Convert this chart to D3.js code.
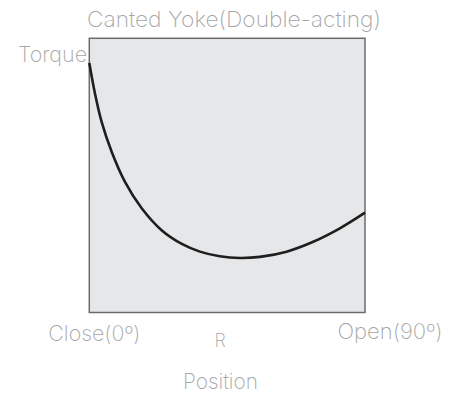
<!DOCTYPE html>
<html>
<head>
<meta charset="utf-8">
<script src="https://cdn.jsdelivr.net/npm/d3@7"></script>
<style>
  body { margin: 0; background: #fff; }
  text { font-family: "Inter", "Lato", sans-serif; font-weight: 200; fill: #a6a6a6; }
</style>
</head>
<body>
<svg id="chart"></svg>
<script>
(function(){

    // position in degrees (0 = closed, 90 = open)
    let positions = [0, 1.9, 4, 7.3, 11.6, 17.1, 23.6, 30.2, 36.1, 42.6, 49.2, 55.7, 64.4, 73.1, 81.8, 90]
    // torque, relative units
    let torque = [91, 79.6, 69.6, 58.6, 47.7, 38, 30, 25, 22.2, 20.5, 19.9, 20.3, 22.2, 25.8, 30.7, 36.4]

    let tickValues = [0, 45, 90]
    let tickLabels = ["Close(0º)", "R", "Open(90º)"]

    let title = "Canted Yoke(Double-acting)"
    let yTitle = "Torque"
    let xTitle = "Position"

    let W = 458, H = 396
    let left = 89.3, right = 365, top = 38.3, bottom = 312.5

    let svg = d3.select("svg#chart")
        .attr("width", W)
        .attr("height", H)

    let xScale = d3.scaleLinear()
        .domain([0, 90])
        .range([left, right])

    let yScale = d3.scaleLinear()
        .domain([0, 100])
        .range([bottom, top])

    svg.append("rect")
        .attr("x", xScale(0))
        .attr("y", yScale(100))
        .attr("width", xScale(90) - xScale(0))
        .attr("height", yScale(0) - yScale(100))
        .attr("fill", "#e6e7e9")
        .attr("stroke", "#6b6b6b")
        .attr("stroke-width", 1.5)

    let data = positions.map((p, i) => ({x: p, y: torque[i]}))

    let line = d3.line()
        .x(d => xScale(d.x))
        .y(d => yScale(d.y))
        .curve(d3.curveCatmullRom.alpha(0.5))

    svg.append("path")
        .datum(data)
        .attr("d", line)
        .attr("fill", "none")
        .attr("stroke", "#1e1e1e")
        .attr("stroke-width", 2.6)

    svg.append("text")
        .attr("x", 87)
        .attr("y", 27)
        .attr("font-size", "22px")
        .attr("textLength", 294)
        .attr("lengthAdjust", "spacingAndGlyphs")
        .text(title)

    svg.append("text")
        .attr("x", 18)
        .attr("y", 62)
        .attr("font-size", "22px")
        .attr("textLength", 69)
        .attr("lengthAdjust", "spacingAndGlyphs")
        .text(yTitle)

    // tick labels under the box
    let dx = [5, -7, 25]
    let dy = [28, 34, 26]
    let widths = [92, null, 105]
    let sizes = [21, 18, 21]
    svg.selectAll("text.tick")
        .data(tickValues)
        .enter()
        .append("text")
            .attr("class", "tick")
            .attr("x", (d, i) => xScale(d) + dx[i])
            .attr("y", (d, i) => bottom + dy[i])
            .attr("text-anchor", "middle")
            .attr("font-size", (d, i) => sizes[i] + "px")
            .attr("textLength", (d, i) => widths[i])
            .attr("lengthAdjust", "spacingAndGlyphs")
            .text((d, i) => tickLabels[i])

    svg.append("text")
        .attr("x", 183)
        .attr("y", 389)
        .attr("font-size", "22px")
        .attr("textLength", 75)
        .attr("lengthAdjust", "spacingAndGlyphs")
        .text(xTitle)

})()
</script>
</body>
</html>
